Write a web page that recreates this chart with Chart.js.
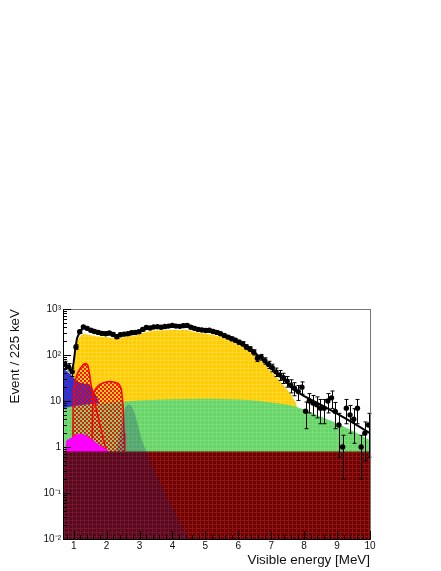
<!DOCTYPE html>
<html>
<head>
<meta charset="utf-8">
<script src="https://cdn.jsdelivr.net/npm/chart.js@4/dist/chart.umd.min.js"></script>
<style>
  html, body { margin: 0; padding: 0; background: #fff; }
</style>
</head>
<body>
<canvas id="spectrumChart" width="441" height="571"></canvas>
<script>
// ##########################
// ## DATA                 ##
// ##########################

// Measured spectrum: bin centres [MeV], events and errors
const binCenters = [
  0.731, 0.844, 0.956, 1.069, 1.181, 1.294, 1.406, 1.519, 1.631, 1.744,
  1.856, 1.969, 2.081, 2.194, 2.306, 2.419, 2.531, 2.644, 2.756, 2.869,
  2.981, 3.094, 3.206, 3.319, 3.431, 3.544, 3.656, 3.769, 3.881, 3.994,
  4.106, 4.219, 4.331, 4.444, 4.556, 4.669, 4.781, 4.894, 5.006, 5.119,
  5.231, 5.344, 5.456, 5.569, 5.681, 5.794, 5.906, 6.019, 6.131, 6.244,
  6.356, 6.469, 6.581, 6.694, 6.806, 6.919, 7.031, 7.144, 7.256, 7.369,
  7.481, 7.594, 7.706, 7.819, 7.931, 8.044, 8.156, 8.269, 8.381, 8.494,
  8.606, 8.719, 8.831, 8.944, 9.056, 9.169, 9.281, 9.394, 9.506, 9.619,
  9.731, 9.844, 9.956
];
const dataCounts = [
  62, 55, 43, 150, 320, 405, 380, 345, 325, 310,
  295, 290, 300, 280, 250, 275, 285, 290, 305, 310,
  320, 360, 395, 385, 405, 410, 400, 415, 425, 440,
  425, 420, 435, 440, 400, 380, 360, 350, 340, 345,
  325, 310, 290, 265, 245, 225, 210, 190, 175, 150,
  135, 115, 85, 90, 75, 62, 53, 43, 37, 32,
  27, 22, 19, 16, 20, 6, 10, 9, 8.3, 7,
  7, 10, 11.7, 5.9, 3, 1, 7, 5, 4, 7,
  1, 2, 3
];
const dataErrors = [
  11, 10, 9, 17, 25, 28, 28, 26, 25, 25,
  24, 24, 24, 24, 22, 23, 24, 24, 25, 25,
  25, 27, 28, 28, 28, 29, 28, 29, 29, 30,
  29, 29, 30, 30, 28, 28, 27, 26, 26, 26,
  25, 25, 24, 23, 22, 21, 20, 19, 19, 17,
  16, 15, 13, 13, 12, 11, 10, 9, 9, 8,
  7, 7, 6, 5.7, 6, 3.5, 4.5, 4.2, 4, 3.8,
  3.8, 4.5, 4.8, 3.4, 2.4, 0.8, 3.8, 3, 2.8, 3.8,
  0.8, 1.5, 2.4
];

// Total fit
const fitX = [0.675, 0.8, 0.95, 1.0, 1.05, 1.1, 1.2, 1.3, 1.4, 1.6, 1.8, 2.0, 2.2, 2.4, 2.6, 2.8, 3.0, 3.2, 3.4, 3.6, 3.8, 4.0, 4.2, 4.4, 4.6, 4.8, 5.0, 5.2, 5.4, 5.6, 5.8, 6.0, 6.2, 6.4, 6.6, 6.8, 7.0, 7.2, 7.4, 7.6, 7.8, 8.0, 8.5, 9.0, 9.5, 10.0];
const fitY = [64, 56, 45, 70, 140, 230, 340, 395, 375, 330, 305, 292, 275, 272, 285, 300, 325, 380, 400, 405, 415, 430, 425, 430, 400, 365, 345, 330, 305, 270, 235, 200, 165, 130, 98, 74, 53, 39, 29, 20, 15.5, 12.8, 8.3, 5.3, 3.3, 2.0];

// Reactor component (yellow)
const reactorX = [0.96, 0.99, 1.03, 1.1, 1.2, 1.3, 1.4, 1.6, 1.8, 2.0, 2.2, 2.4, 2.6, 2.8, 3.0, 3.2, 3.4, 3.6, 3.8, 4.0, 4.2, 4.4, 4.6, 4.8, 5.0, 5.2, 5.4, 5.6, 5.8, 6.0, 6.2, 6.4, 6.6, 6.8, 7.0, 7.2, 7.4, 7.6, 7.75, 7.85, 8.0, 8.1];
const reactorY = [0.5, 60, 130, 200, 260, 285, 280, 262, 250, 245, 232, 235, 248, 262, 280, 315, 335, 340, 345, 352, 345, 355, 330, 305, 290, 275, 255, 225, 195, 168, 140, 112, 85, 63, 44, 31, 21, 14, 9, 5, 1.5, 0.5];

// Broad flat component (green)
const flatX = [0.675, 1.0, 1.5, 2.0, 2.5, 3.0, 3.5, 4.0, 4.5, 5.0, 5.5, 6.0, 6.5, 7.0, 7.5, 7.7, 8.0, 8.5, 9.0, 9.5, 10.0];
const flatY = [7.0, 7.8, 8.6, 9.3, 9.8, 10.2, 10.6, 10.9, 11.1, 11.2, 11.1, 10.8, 10.2, 9.3, 8.3, 7.7, 6.5, 4.6, 3.3, 2.2, 1.4];

// Low energy component (blue)
const lowX = [0.675, 0.8, 0.9, 1.0, 1.1, 1.2, 1.3, 1.45, 1.55, 1.7, 1.85, 2.0, 2.2, 2.4, 2.6];
const lowY = [52, 44, 38, 32, 27, 25, 24, 23, 20, 12, 7.5, 5, 3, 1.8, 1];

// Magenta component
const magentaX = [0.73, 0.75, 0.78, 0.9, 1.0, 1.1, 1.2, 1.3, 1.4, 1.5, 1.6, 1.7, 1.8, 1.9, 2.0, 2.1];
const magentaY = [0.8, 1.0, 1.4, 1.55, 1.73, 1.9, 1.95, 1.9, 1.75, 1.55, 1.4, 1.22, 1.08, 0.98, 0.88, 0.78];

// Red hatched peak (~1.4 MeV) and bump (1.6-2.5 MeV)
const peakX = [0.97, 0.98, 1.0, 1.05, 1.1, 1.2, 1.3, 1.38, 1.43, 1.48, 1.53, 1.6, 1.7, 1.8, 1.9, 2.0];
const peakY = [0.5, 8, 18, 28, 38, 52, 63, 65, 60, 40, 22, 12, 6, 3, 1.5, 0.8];
const bumpX = [1.55, 1.58, 1.62, 1.7, 1.8, 1.9, 2.0, 2.1, 2.2, 2.3, 2.38, 2.45, 2.5, 2.53, 2.55];
const bumpY = [0.8, 12, 16, 20, 23, 25, 26, 26.5, 26, 25, 23, 18, 8, 2, 0.8];

// 2.6 MeV gamma component (translucent blue)
const gammaX = [0.675, 2.3, 2.45, 2.55, 2.65, 2.75, 2.85, 2.95, 3.05, 3.15, 3.25, 3.5, 3.75, 4.0, 4.2, 4.4, 4.6];
const gammaY = [0.8, 0.8, 3, 7, 8.5, 8, 5.5, 3, 1.6, 1.0, 0.7, 0.26, 0.11, 0.048, 0.025, 0.013, 0.007];

// Dark red band
const bandX = [0.675, 10];
const bandY = [0.8, 0.8];

// Axis tick labels
const xTickValues = [1, 2, 3, 4, 5, 6, 7, 8, 9, 10];
const yTickLabels = { '3': '10³', '2': '10²', '1': '10', '0': '1', '-1': '10⁻¹', '-2': '10⁻²' };

// ##########################
// ## HELPERS              ##
// ##########################

function toPoints(xs, ys) {
  return xs.map((x, i) => ({ x: x, y: ys[i] }));
}

const canvas = document.getElementById('spectrumChart');
const ctx = canvas.getContext('2d');

// red cross hatch (transparent gaps)
function makeHatch() {
  const c = document.createElement('canvas');
  c.width = 4; c.height = 4;
  const g = c.getContext('2d');
  g.fillStyle = 'rgba(255,0,0,0.9)';
  g.fillRect(0, 0, 2, 2);
  g.fillRect(2, 2, 2, 2);
  return ctx.createPattern(c, 'repeat');
}

// solid fill with a faint lighter grid (ROOT png look)
function makeGrid(base, line) {
  const c = document.createElement('canvas');
  c.width = 4; c.height = 4;
  const g = c.getContext('2d');
  g.fillStyle = base;
  g.fillRect(0, 0, 4, 4);
  g.fillStyle = line;
  g.fillRect(0, 0, 4, 1);
  g.fillRect(0, 0, 1, 4);
  return ctx.createPattern(c, 'repeat');
}

function areaSet(label, xs, ys, color, order, border) {
  return {
    label: label,
    data: toPoints(xs, ys),
    backgroundColor: color,
    borderColor: border || 'rgba(0,0,0,0)',
    borderWidth: border ? 1.5 : 0,
    pointRadius: 0,
    fill: 'start',
    tension: 0,
    order: order
  };
}

// ##########################
// ## PLUGINS              ##
// ##########################

// vertical error bars, drawn just before the data markers
const errorBars = {
  id: 'errorBars',
  beforeDatasetDraw(chart, args) {
    if (args.index !== 0) return;
    const { ctx, scales: { x, y }, chartArea: a } = chart;
    ctx.save();
    ctx.strokeStyle = '#000';
    ctx.lineWidth = 1;
    binCenters.forEach((c, i) => {
      const px = Math.round(x.getPixelForValue(c)) + 0.5;
      const hi = Math.max(a.top, y.getPixelForValue(dataCounts[i] + dataErrors[i]));
      const lowVal = dataCounts[i] - dataErrors[i];
      const lo = lowVal > 0.01 ? y.getPixelForValue(lowVal) : a.bottom;
      ctx.beginPath();
      ctx.moveTo(px, hi); ctx.lineTo(px, lo);
      ctx.moveTo(px - 2, hi); ctx.lineTo(px + 2, hi);
      ctx.moveTo(px - 2, lo); ctx.lineTo(px + 2, lo);
      ctx.stroke();
    });
    ctx.restore();
  }
};

// ROOT-like frame with inward ticks
const frameTicks = {
  id: 'frameTicks',
  afterDatasetsDraw(chart) {
    const { ctx, chartArea: a, scales: { x, y } } = chart;
    ctx.save();
    ctx.lineWidth = 1;
    ctx.strokeStyle = '#777';
    ctx.strokeRect(a.left + 0.5, a.top + 0.5, a.right - a.left, a.bottom - a.top);
    ctx.strokeStyle = '#000';
    ctx.beginPath();
    ctx.moveTo(a.left + 0.5, a.top); ctx.lineTo(a.left + 0.5, a.bottom + 0.5);
    ctx.lineTo(a.right + 0.5, a.bottom + 0.5);
    // x ticks every 0.2 MeV
    for (let k = 4; k <= 50; k++) {
      const v = k / 5;
      if (v < x.min) continue;
      const px = Math.round(x.getPixelForValue(v)) + 0.5;
      const len = (k % 5 === 0) ? 8 : 4;
      ctx.moveTo(px, a.bottom); ctx.lineTo(px, a.bottom - len);
    }
    // y ticks, log decades
    for (let d = -2; d <= 3; d++) {
      for (let m = 1; m <= 9; m++) {
        const v = m * Math.pow(10, d);
        if (v > 1000.001) break;
        const py = Math.round(y.getPixelForValue(v)) + 0.5;
        const len = (m === 1) ? 8 : 4;
        ctx.moveTo(a.left, py); ctx.lineTo(a.left + len, py);
      }
    }
    ctx.stroke();
    ctx.restore();
  }
};

// ##########################
// ## CHART                ##
// ##########################

const spectrumChart = new Chart(ctx, {
  type: 'line',
  data: {
    datasets: [
      {
        label: 'Data',
        data: toPoints(binCenters, dataCounts),
        showLine: false,
        pointRadius: 2.7,
        pointBackgroundColor: '#000',
        pointBorderColor: '#000',
        pointBorderWidth: 0,
        order: 0
      },
      {
        label: 'Fit',
        data: toPoints(fitX, fitY),
        borderColor: '#000',
        borderWidth: 2,
        pointRadius: 0,
        fill: false,
        tension: 0,
        order: 1
      },
      areaSet('2.6 MeV gamma', gammaX, gammaY, 'rgba(25,35,130,0.24)', 2),
      areaSet('Band', bandX, bandY, makeGrid('#6c0000', '#8f1414'), 3),
      areaSet('Magenta', magentaX, magentaY, '#ff00ff', 4),
      areaSet('Peak', peakX, peakY, makeHatch(), 5, '#ff0000'),
      areaSet('Bump', bumpX, bumpY, makeHatch(), 6, '#ff0000'),
      areaSet('Flat', flatX, flatY, makeGrid('#66d466', '#7adc7a'), 7),
      areaSet('Low', lowX, lowY, '#3333cc', 8),
      areaSet('Reactor', reactorX, reactorY, makeGrid('#ffcc00', '#ffd633'), 9)
    ]
  },
  options: {
    responsive: false,
    animation: false,
    events: [],
    layout: { padding: { left: 0, top: 309, right: 71, bottom: 0 } },
    plugins: { legend: { display: false }, tooltip: { enabled: false } },
    scales: {
      x: {
        type: 'linear',
        min: 0.675,
        max: 10,
        afterFit(scale) { scale.height = 32; },
        grid: { display: false, drawTicks: false },
        border: { display: false },
        afterBuildTicks(scale) { scale.ticks = xTickValues.map(v => ({ value: v })); },
        ticks: {
          autoSkip: false,
          maxRotation: 0,
          padding: 1,
          color: '#111',
          font: { family: 'Liberation Sans, Arial, sans-serif', size: 10 },
          callback: v => String(v)
        },
        title: {
          display: true,
          text: 'Visible energy [MeV]',
          align: 'end',
          color: '#111',
          padding: { top: 0, bottom: 3 },
          font: { family: 'Liberation Sans, Arial, sans-serif', size: 13.4 }
        }
      },
      y: {
        type: 'logarithmic',
        min: 0.01,
        max: 1000,
        afterFit(scale) { scale.width = 63; },
        grid: { display: false, drawTicks: false },
        border: { display: false },
        afterBuildTicks(scale) {
          scale.ticks = Object.keys(yTickLabels).map(k => ({ value: Math.pow(10, Number(k)) }));
        },
        ticks: {
          autoSkip: false,
          padding: 2,
          color: '#111',
          font: { family: 'Liberation Sans, Arial, sans-serif', size: 10 },
          callback: v => yTickLabels[String(Math.round(Math.log10(v)))]
        },
        title: {
          display: true,
          text: 'Event / 225 keV',
          align: 'end',
          color: '#111',
          padding: { top: 7, bottom: 0 },
          font: { family: 'Liberation Sans, Arial, sans-serif', size: 13.4 }
        }
      }
    }
  },
  plugins: [errorBars, frameTicks]
});
</script>
</body>
</html>
